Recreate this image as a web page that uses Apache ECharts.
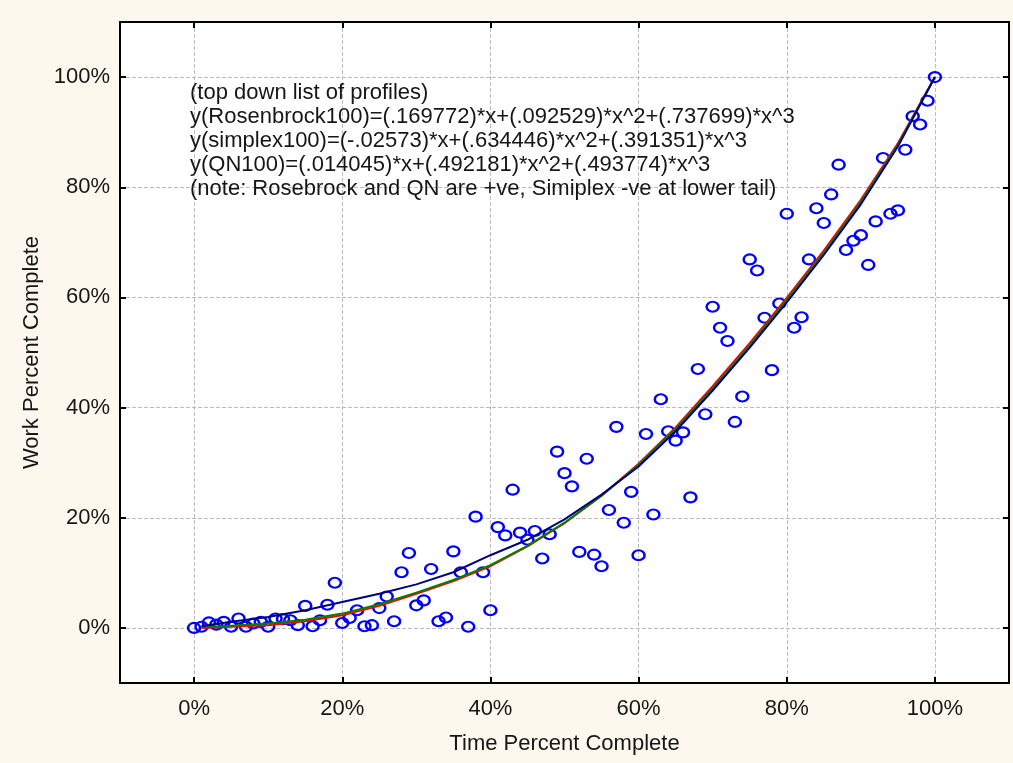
<!DOCTYPE html>
<html>
<head>
<meta charset="utf-8">
<script src="https://cdn.jsdelivr.net/npm/echarts@6/dist/echarts.min.js"></script>
<style>
  html, body { margin: 0; padding: 0; background: #FDF8EE; }
  #chart { width: 1013px; height: 763px; }
</style>
</head>
<body>
<div id="chart"></div>
<script>
// Observed progress: time percent complete vs work percent complete
const timePct = [0,1,2,3,4,5,6,7,8,9,10,11,12,13,14,15,16,17,18,19,20,21,22,23,24,25,26,27,28,29,30,31,32,33,34,35,36,37,38,39,40,41,42,43,44,45,46,47,48,49,50,51,52,53,54,55,56,57,58,59,60,61,62,63,64,65,66,67,68,69,70,71,72,73,74,75,76,77,78,79,80,81,82,83,84,85,86,87,88,89,90,91,92,93,94,95,96,97,98,99,100];
const workPct = [0,0.2,1.0,0.6,1.1,0.2,1.7,0.2,0.8,1.1,0.2,1.7,1.6,1.4,0.5,4.0,0.3,1.4,4.2,8.2,0.9,1.8,3.2,0.3,0.5,3.6,5.7,1.2,10.1,13.6,4.1,5.0,10.7,1.2,1.9,13.9,10.1,0.2,20.2,10.1,3.2,18.3,16.8,25.1,17.3,16.0,17.6,12.6,17.0,32.0,28.1,25.7,13.8,30.7,13.3,11.2,21.4,36.5,19.1,24.7,13.2,35.2,20.6,41.5,35.7,34.0,35.5,23.7,47.0,38.8,58.3,54.5,52.1,37.4,42.0,66.9,64.9,56.3,46.8,58.9,75.2,54.5,56.4,66.9,76.2,73.5,78.7,84.1,68.6,70.3,71.3,65.9,73.8,85.3,75.2,75.8,86.8,92.9,91.4,95.7,100];

// Fitted profiles, sampled along the time axis
const profileTime = [1,5,10,15,20,25,30,35,40,45,50,55,60,65,70,75,80,85,90,95,100];
const simplexProfile = [0.0,0.2,0.5,1.2,2.3,4.0,6.2,8.5,11.2,14.8,19.0,24.0,29.8,36.4,43.9,51.7,59.9,68.5,77.7,88.0,100];
const qnProfile = [0.1,0.4,0.8,1.5,2.6,4.3,6.4,8.7,11.4,14.9,19.1,24.0,29.6,36.1,43.5,51.3,59.5,68.1,77.3,87.7,100];
const rosenbrockProfile = [0.3,1.1,2.0,3.2,4.7,6.2,7.9,10.1,13.2,16.0,19.7,24.2,29.3,35.7,43.1,50.9,59.1,67.7,76.9,87.4,100];

const tickValues = [0,20,40,60,80,100];

const notes = [
  '(top down list of profiles)',
  'y(Rosenbrock100)=(.169772)*x+(.092529)*x^2+(.737699)*x^3',
  'y(simplex100)=(-.02573)*x+(.634446)*x^2+(.391351)*x^3',
  'y(QN100)=(.014045)*x+(.492181)*x^2+(.493774)*x^3',
  '(note: Rosebrock and QN are +ve, Simiplex -ve at lower tail)'
];

const pair = (xs, ys) => xs.map((x, i) => [x, ys[i]]);

const FONT = 'Liberation Sans, Arial, sans-serif';
const TEXT = '#161616';
const FS = 22;

const gridLine = { show: true, lineStyle: { color: '#BDBDBD', width: 1, type: [4, 2] } };
const innerTick = { show: true, inside: true, length: 6, customValues: tickValues, lineStyle: { color: '#000', width: 2 } };
const noLine = { show: false, onZero: false };

const chart = echarts.init(document.getElementById('chart'), null, { renderer: 'canvas' });

chart.setOption({
  backgroundColor: '#FDF8EE',
  animation: false,
  grid: {
    left: 120, top: 22, width: 889, height: 661,
    show: true, backgroundColor: '#ffffff', borderColor: '#000', borderWidth: 2,
    containLabel: false
  },
  xAxis: [
    {
      type: 'value', min: -10, max: 110, position: 'bottom',
      name: 'Time Percent Complete', nameLocation: 'middle', nameGap: 50,
      nameTextStyle: { fontFamily: FONT, fontSize: FS, color: TEXT },
      axisLine: noLine,
      axisTick: innerTick,
      axisLabel: { customValues: tickValues, formatter: '{value}%', margin: 15, fontFamily: FONT, fontSize: FS, color: TEXT },
      splitLine: gridLine
    },
    {
      type: 'value', min: -10, max: 110, position: 'top',
      axisLine: noLine,
      axisTick: innerTick,
      axisLabel: { show: false, customValues: tickValues },
      splitLine: { show: false }
    }
  ],
  yAxis: [
    {
      type: 'value', min: -10, max: 110, position: 'left',
      name: 'Work Percent Complete', nameLocation: 'middle', nameGap: 76,
      nameTextStyle: { fontFamily: FONT, fontSize: FS, color: TEXT },
      axisLine: noLine,
      axisTick: innerTick,
      axisLabel: { customValues: tickValues, formatter: '{value}%', margin: 10, fontFamily: FONT, fontSize: FS, color: TEXT },
      splitLine: gridLine
    },
    {
      type: 'value', min: -10, max: 110, position: 'right',
      axisLine: noLine,
      axisTick: innerTick,
      axisLabel: { show: false, customValues: tickValues },
      splitLine: { show: false }
    }
  ],
  graphic: [{
    type: 'text', left: 190, top: 81, z: 10,
    style: {
      text: notes.join('\n'),
      font: FS + 'px ' + FONT,
      lineHeight: 24,
      fill: TEXT
    }
  }],
  series: [
    {
      name: 'observed', type: 'scatter',
      data: pair(timePct, workPct),
      symbol: 'circle', symbolSize: [12, 10],
      itemStyle: { color: 'rgba(0,0,0,0)', borderColor: '#0000FF', borderWidth: 2.3, opacity: 1 },
      z: 2
    },
    {
      name: 'simplex100', type: 'line', data: pair(profileTime, simplexProfile),
      showSymbol: false, smooth: false,
      lineStyle: { color: '#FF0000', width: 2 }, z: 3
    },
    {
      name: 'QN100', type: 'line', data: pair(profileTime, qnProfile),
      showSymbol: false, smooth: false,
      lineStyle: { color: '#008000', width: 2 }, z: 4
    },
    {
      name: 'Rosenbrock100', type: 'line', data: pair(profileTime, rosenbrockProfile),
      showSymbol: false, smooth: false,
      lineStyle: { color: '#000080', width: 2 }, z: 5
    }
  ]
});
</script>
</body>
</html>
